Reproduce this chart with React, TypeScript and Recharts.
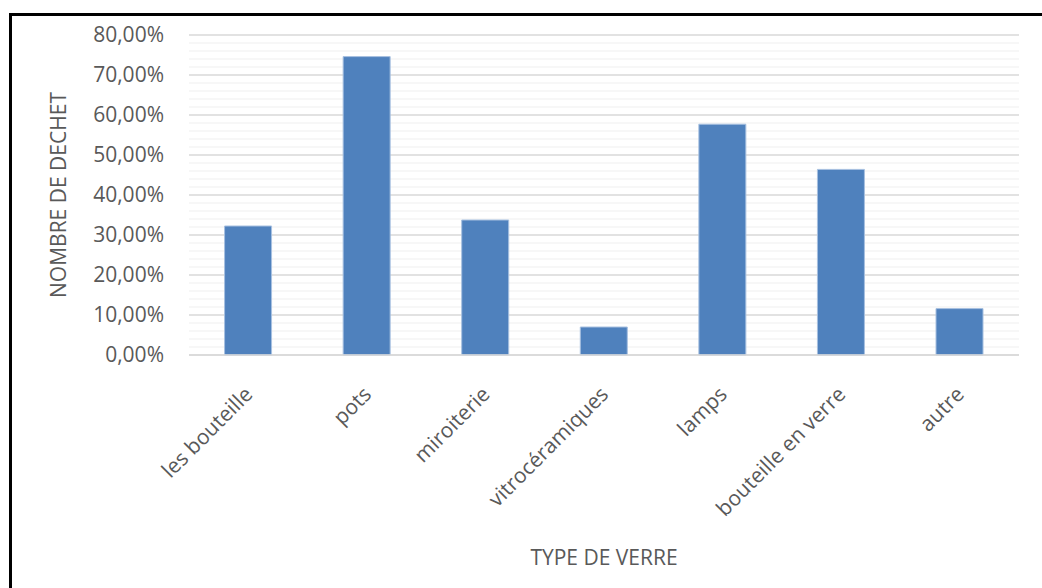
import React from "react";
import { BarChart, Bar, XAxis, YAxis, CartesianGrid, Label } from "recharts";

const categories = [
  "les bouteille",
  "pots",
  "miroiterie",
  "vitrocéramiques",
  "lamps",
  "bouteille en verre",
  "autre",
];
const values = [0.3225, 0.746, 0.3375, 0.07, 0.577, 0.464, 0.116];
const majorTicks = [0, 0.1, 0.2, 0.3, 0.4, 0.5, 0.6, 0.7, 0.8];
const minorTicks = [
  0.02, 0.04, 0.06, 0.08, 0.12, 0.14, 0.16, 0.18, 0.22, 0.24, 0.26, 0.28,
  0.32, 0.34, 0.36, 0.38, 0.42, 0.44, 0.46, 0.48, 0.52, 0.54, 0.56, 0.58,
  0.62, 0.64, 0.66, 0.68, 0.72, 0.74, 0.76, 0.78,
];

const data = categories.map((c, i) => ({ name: c, value: values[i] }));

const FONT = "'Open Sans', 'Noto Sans', sans-serif";
const TEXT = "#595959";

const fmt = (v: number) => (v * 100).toFixed(2).replace(".", ",") + "%";

const CatTick = (props: any) => {
  const { x, y, payload } = props;
  return (
    <text
      transform={`translate(${x},${y}) rotate(-45)`}
      textAnchor="end"
      dominantBaseline="central"
      fill={TEXT}
      fontSize={21}
      fontFamily={FONT}
    >
      {payload.value}
    </text>
  );
};

const genFrom = (vals: number[]) => (args: any) => {
  const scale = args?.yAxis?.scale;
  if (!scale) return [];
  const s = typeof scale === "function" ? scale : scale.map ? (v: number) => scale.map(v) : null;
  if (!s) return [];
  return vals.map((v) => s(v));
};

export default function App() {
  return (
    <div
      style={{
        position: "absolute",
        left: 0,
        top: 0,
        width: 1042,
        height: 588,
        overflow: "hidden",
        background: "#fff",
      }}
    >
      <div
        style={{
          position: "absolute",
          left: 9,
          top: 13,
          width: 1100,
          height: 700,
          border: "3px solid #000",
          boxSizing: "border-box",
        }}
      />
      <div style={{ position: "absolute", left: 0, top: 0 }}>
        <BarChart
          width={1042}
          height={588}
          data={data}
          margin={{ top: 35, right: 23, bottom: 0, left: 0 }}
          barCategoryGap="30%"
        >
          <CartesianGrid
            vertical={false}
            stroke="#f0f0f0"
            strokeWidth={1.2}
            horizontalCoordinatesGenerator={genFrom(minorTicks)}
          />
          <CartesianGrid
            vertical={false}
            stroke="#d9d9d9"
            strokeWidth={1.3}
            horizontalCoordinatesGenerator={genFrom(majorTicks)}
          />
          <XAxis
            dataKey="name"
            interval={0}
            height={233}
            tick={<CatTick />}
            tickLine={false}
            tickSize={0}
            tickMargin={35}
            axisLine={{ stroke: "#d9d9d9", strokeWidth: 1.5 }}
          >
            <Label
              value="TYPE DE VERRE"
              position="insideBottom"
              offset={23}
              fill={TEXT}
              fontSize={21}
              fontFamily={FONT}
            />
          </XAxis>
          <YAxis
            width={189}
            domain={[0, 0.8]}
            ticks={majorTicks}
            tickFormatter={fmt}
            tickLine={false}
            axisLine={false}
            tickSize={0}
            tickMargin={25}
            tick={{ fill: TEXT, fontSize: 21, fontFamily: FONT }}
          >
            <Label
              value="NOMBRE DE DECHET"
              angle={-90}
              position="insideLeft"
              offset={59}
              fill={TEXT}
              fontSize={21}
              fontFamily={FONT}
              style={{ textAnchor: "middle" }}
            />
          </YAxis>
          <Bar
            dataKey="value"
            fill="#4f81bd"
            stroke="#a7c0e0"
            strokeWidth={1}
            isAnimationActive={false}
          />
        </BarChart>
      </div>
    </div>
  );
}
